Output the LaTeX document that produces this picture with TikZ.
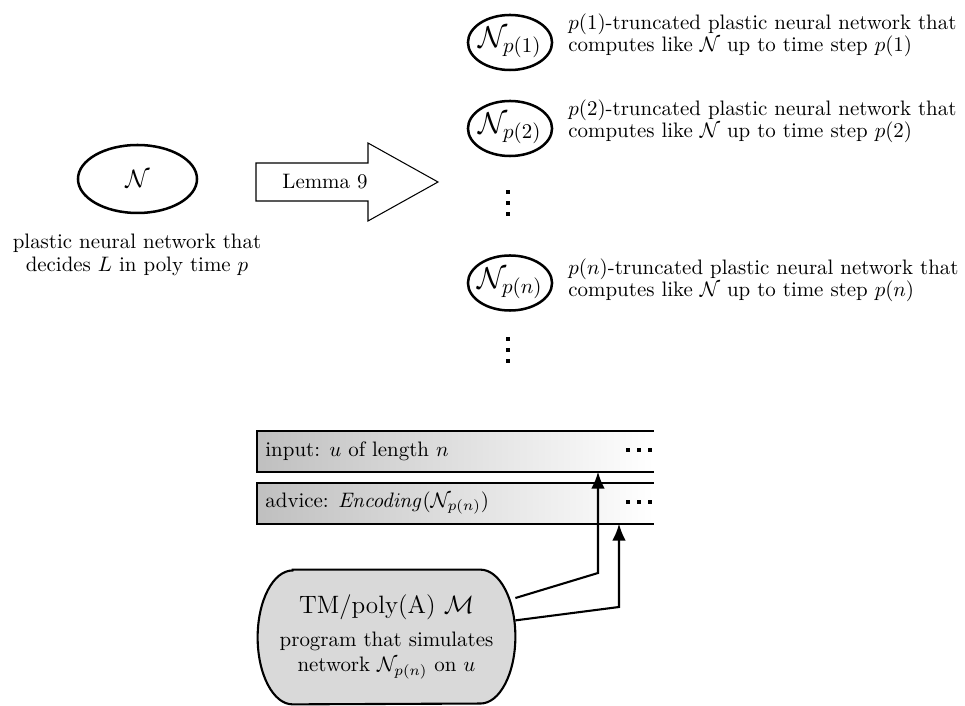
\documentclass[tikz,border=0pt]{standalone}
\usetikzlibrary{arrows.meta,shapes.geometric,backgrounds}
\begin{document}
\begin{tikzpicture}[x=0.478pt,y=-0.478pt,
  net/.style={ellipse,draw,line width=1.2pt,inner sep=-1.5pt},
  desc/.style={anchor=west,inner sep=0pt,align=left},
  tapebox/.style={anchor=north west,inner sep=0pt,minimum width=189.3pt,minimum height=19.1pt,left color=black!25,right color=white},
  tapeline/.style={line width=1pt},
  conn/.style={line width=1pt,-{Latex[length=8pt,width=6.5pt]}},
  dotsq/.style={fill=black,inner sep=0pt,minimum size=1.9pt},
]
\useasboundingbox (0,0) rectangle (965,706);
% original network
\node[net,minimum width=56.9pt,minimum height=32.5pt,font=\large] (N) at (137.5,179) {$\mathcal{N}$};
\node[align=center,inner sep=0pt] (Nd) at (137,255) {plastic neural network that\\[-1pt]decides $L$ in poly time $p$};
% lemma arrow
\draw[line width=0.5pt] (256,163) -- (368,163) -- (368,143) -- (438,182) -- (368,221) -- (368,201) -- (256,201) -- cycle;
\node[inner sep=0pt] (lem) at (325,182) {Lemma 9};
% truncated networks
\node[net,minimum width=40.2pt,minimum height=26.3pt,font=\Large] (N1) at (510,42.5) {$\mathcal{N}_{p(1)}$};
\node[net,minimum width=40.2pt,minimum height=26.3pt,font=\Large] (N2) at (510,128.5) {$\mathcal{N}_{p(2)}$};
\node[net,minimum width=40.2pt,minimum height=26.3pt,font=\Large] (Nn) at (510,283) {$\mathcal{N}_{p(n)}$};
\node[desc] (T1) at (568,35) {$p(1)$-truncated plastic neural network that\\[-1.5pt]computes like $\mathcal{N}$ up to time step $p(1)$};
\node[desc] (T2) at (568,121) {$p(2)$-truncated plastic neural network that\\[-1.5pt]computes like $\mathcal{N}$ up to time step $p(2)$};
\node[desc] (Tn) at (568,280) {$p(n)$-truncated plastic neural network that\\[-1.5pt]computes like $\mathcal{N}$ up to time step $p(n)$};
% vertical dots
\node[dotsq] (d1a) at (508,192) {};
\node[dotsq] (d1b) at (508,203) {};
\node[dotsq] (d1c) at (508,214) {};
\node[dotsq] (d2a) at (508,339) {};
\node[dotsq] (d2b) at (508,350) {};
\node[dotsq] (d2c) at (508,361) {};
% tapes
\node[tapebox] (tin) at (257,431) {};
\node[tapebox] (tad) at (257,483) {};
\draw[tapeline] (tin.north east) -- (tin.north west) -- (tin.south west) -- (tin.south east);
\draw[tapeline] (tad.north east) -- (tad.north west) -- (tad.south west) -- (tad.south east);
\node[anchor=west,inner sep=0pt] (tinl) at (265,451) {input: $u$ of length $n$};
\node[anchor=west,inner sep=0pt] (tadl) at (265,503) {advice: $\mathit{Encoding}(\mathcal{N}_{p(n)})$};
\foreach \x in {628,639,650} {
  \node[dotsq] at (\x,450) {};
  \node[dotsq] at (\x,502) {};
}
% machine
\node[minimum width=122.8pt,minimum height=64pt,inner sep=0pt,align=center] (M) at (386.5,637)
  {{\large TM/poly(A) $\mathcal{M}$}\\[4pt] program that simulates\\network $\mathcal{N}_{p(n)}$ on $u$};
\begin{scope}[on background layer]
\draw[line width=1pt,fill=black!15] ([xshift=16.7pt]M.north west) -- ([xshift=-16.7pt]M.north east)
  arc[start angle=90,end angle=-90,x radius=16.7pt,y radius=32pt]
  -- ([xshift=16.7pt]M.south west)
  arc[start angle=270,end angle=90,x radius=16.7pt,y radius=32pt] -- cycle;
\end{scope}
% connectors
\coordinate (b1) at (598,573);
\coordinate (b2) at (619,607);
\draw[conn] (M) -- (b1) -- (b1 |- tin.south);
\draw[conn] (M) -- (b2) -- (b2 |- tad.south);
\end{tikzpicture}
\end{document}
